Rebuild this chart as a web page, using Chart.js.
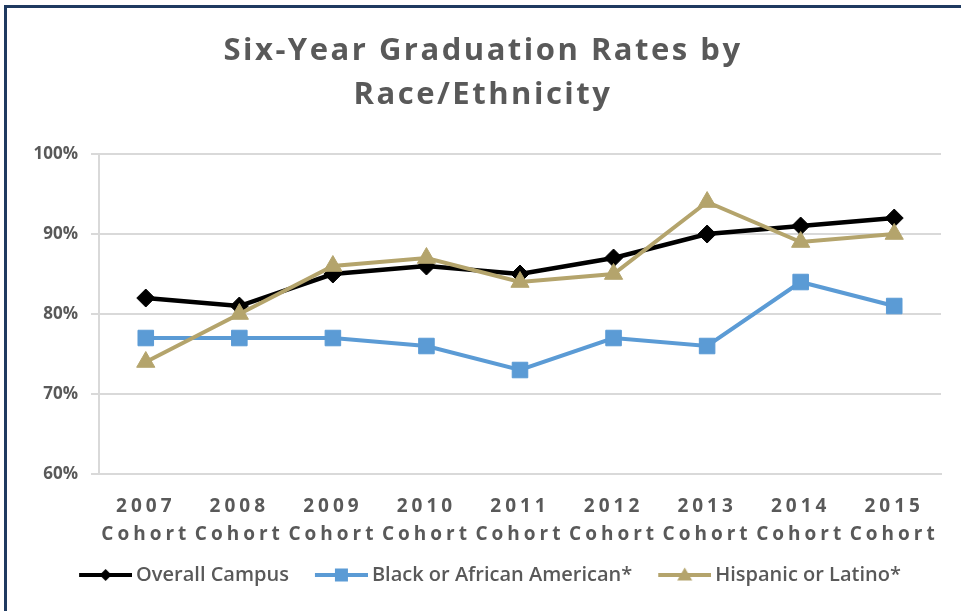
<!DOCTYPE html>
<html><head><meta charset="utf-8">
<script src="https://cdn.jsdelivr.net/npm/chart.js@4.4.1/dist/chart.umd.min.js"></script>
<style>
html,body{margin:0;padding:0;background:#fff;}
#wrap{position:relative;width:961px;height:611px;overflow:hidden;}
#frame{position:absolute;left:4px;top:5px;right:-10px;bottom:-10px;border-left:3px solid #1F3A60;border-top:3px solid #1F3A60;pointer-events:none;}
canvas{display:block}
</style></head><body>
<div id="wrap"><canvas id="c" width="961" height="611"></canvas><div id="frame"></div></div>
<script>
const categories = [['2007','Cohort'],['2008','Cohort'],['2009','Cohort'],['2010','Cohort'],['2011','Cohort'],['2012','Cohort'],['2013','Cohort'],['2014','Cohort'],['2015','Cohort']];
const seriesNames = ['Overall Campus', 'Black or African American*', 'Hispanic or Latino*'];
const overallCampus = [82, 81, 85, 86, 85, 87, 90, 91, 92];
const blackAfricanAmerican = [77, 77, 77, 76, 73, 77, 76, 84, 81];
const hispanicLatino = [74, 80, 86, 87, 84, 85, 94, 89, 90];
const yMin = 60, yMax = 100, yStep = 10;
const titleLines = ['Six-Year Graduation Rates by', 'Race/Ethnicity'];

const TEXT = '#595959';
const colors = ['#000000', '#5B9BD5', '#B4A46C'];
const styles = ['rectRot', 'rect', 'triangle'];

// legend icon: transparent left margin (20px) + 53px line with marker
function legendIcon(color, style) {
  const c = document.createElement('canvas');
  c.width = 73; c.height = 20;
  const g = c.getContext('2d');
  const x0 = 20, x1 = 73, cx = (x0 + x1) / 2;
  g.strokeStyle = color; g.fillStyle = color; g.lineWidth = 4;
  g.beginPath(); g.moveTo(x0, 10); g.lineTo(x1, 10); g.stroke();
  g.beginPath();
  if (style === 'rectRot') {
    g.moveTo(cx, 4); g.lineTo(cx + 6, 10); g.lineTo(cx, 16); g.lineTo(cx - 6, 10); g.closePath();
  } else if (style === 'rect') {
    g.rect(cx - 6.5, 3.5, 13, 13);
  } else {
    g.moveTo(cx, 2.5); g.lineTo(cx + 7.5, 15.5); g.lineTo(cx - 7.5, 15.5); g.closePath();
  }
  g.fill();
  return c;
}

const spacingPlugin = {
  id: 'spacing',
  beforeDraw(chart) {
    const x = chart.scales.x;
    if (x && !x._lsPatched) {
      const orig = x.drawLabels;
      x.drawLabels = function (area) { const ctx = this.ctx; ctx.save(); ctx.letterSpacing = '4px'; orig.call(this, area); ctx.restore(); };
      x._lsPatched = true;
    }
    const t = chart.titleBlock;
    if (t && !t._lsPatched) {
      const origT = t.draw;
      t.draw = function (area) { const ctx = this.ctx; ctx.save(); ctx.letterSpacing = '2.5px'; origT.call(this, area); ctx.restore(); };
      t._lsPatched = true;
    }
  }
};

function build() {
  const icons = colors.map((c, i) => legendIcon(c, styles[i]));
  new Chart(document.getElementById('c'), {
    type: 'line',
    data: {
      labels: categories,
      datasets: [
        { label: seriesNames[0], data: overallCampus, borderColor: colors[0], backgroundColor: colors[0], borderWidth: 4.5, pointStyle: 'rectRot', pointRadius: 9, pointBorderWidth: 1, order: 1, tension: 0 },
        { label: seriesNames[1], data: blackAfricanAmerican, borderColor: colors[1], backgroundColor: colors[1], borderWidth: 4, pointStyle: 'rect', pointRadius: 11, pointBorderWidth: 1, order: 2, tension: 0 },
        { label: seriesNames[2], data: hispanicLatino, borderColor: colors[2], backgroundColor: colors[2], borderWidth: 4, pointStyle: 'triangle', pointRadius: 10.5, pointBorderWidth: 1, order: 0, tension: 0 }
      ]
    },
    options: {
      responsive: false,
      devicePixelRatio: 1,
      animation: false,
      layout: { padding: { left: 25, right: 20, top: 0, bottom: 16 } },
      plugins: {
        tooltip: { enabled: false },
        title: {
          display: true,
          text: titleLines,
          color: TEXT,
          font: { family: '"Open Sans"', size: 31, weight: 'bold', lineHeight: 1.42 },
          padding: { top: 29, bottom: 37 }
        },
        legend: {
          position: 'bottom',
          labels: {
            usePointStyle: true,
            pointStyleWidth: 61,
            padding: 12,
            color: TEXT,
            font: { family: '"Open Sans"', size: 20, weight: '600' },
            generateLabels(chart) {
              return chart.data.datasets.map((ds, i) => ({
                text: ds.label, datasetIndex: i, pointStyle: icons[i],
                fillStyle: colors[i], strokeStyle: colors[i], lineWidth: 0,
                fontColor: TEXT, hidden: false
              }));
            }
          }
        }
      },
      scales: {
        x: {
          offset: true,
          grid: { display: false, drawTicks: false },
          border: { display: true, color: '#D9D9D9', width: 2 },
          ticks: { color: TEXT, padding: 19, maxRotation: 0, autoSkip: false, font: { family: '"Open Sans"', size: 19, weight: 'bold', lineHeight: 1.45 } },
          afterFit(s) { s.height = 79; }
        },
        y: {
          min: yMin, max: yMax,
          grid: { color: '#D9D9D9', lineWidth: 2, tickLength: 8 },
          border: { display: true, color: '#D9D9D9', width: 2 },
          ticks: { stepSize: yStep, color: TEXT, padding: 13, font: { family: '"Open Sans"', size: 17, weight: 'bold' }, callback: v => v + '%' },
          afterFit(s) { s.width = 74; }
        }
      }
    },
    plugins: [spacingPlugin]
  });
}

Promise.all([
  document.fonts.load('bold 20px "Open Sans"'),
  document.fonts.load('600 20px "Open Sans"')
]).then(build, build);
</script>
</body></html>
